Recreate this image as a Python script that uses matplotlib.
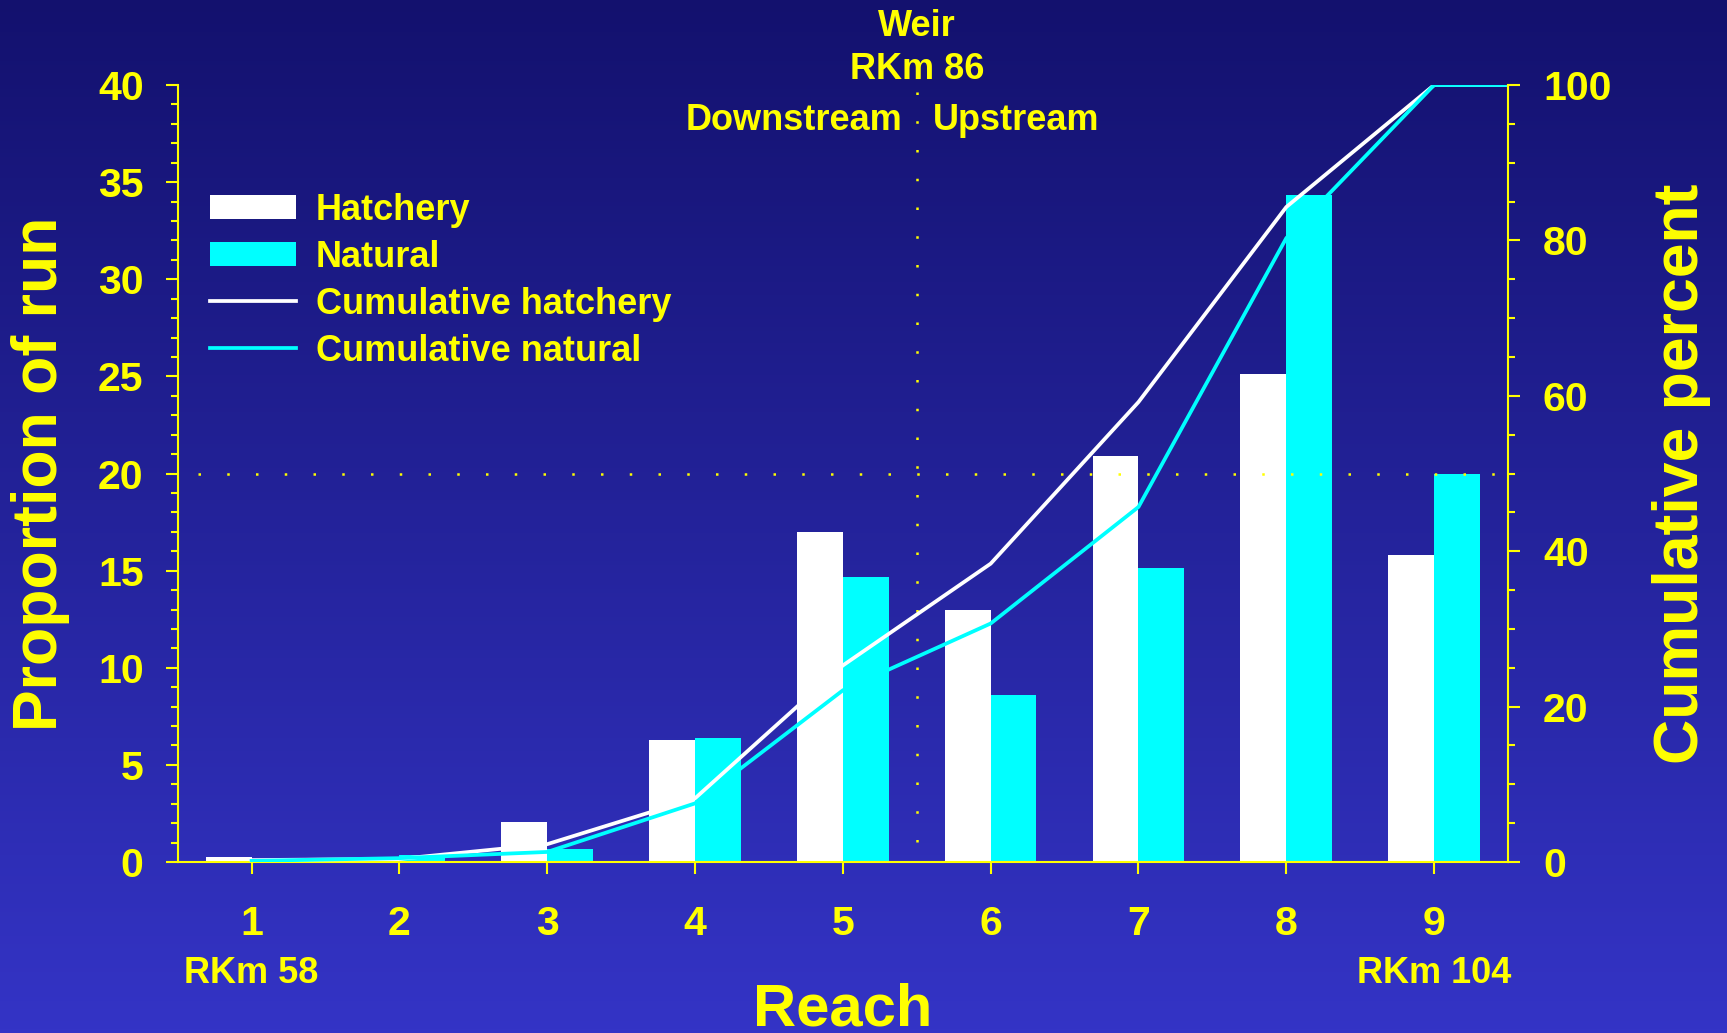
import numpy as np
from matplotlib import pyplot as plt
from matplotlib import transforms
from matplotlib.colors import LinearSegmentedColormap
from matplotlib.ticker import MultipleLocator

plt.rcParams['font.family'] = ['Liberation Sans', 'DejaVu Sans']
plt.rcParams['font.weight'] = 'bold'
plt.rcParams['axes.labelweight'] = 'bold'

# proportion of run by reach (%)
reach = [1, 2, 3, 4, 5, 6, 7, 8, 9]
hatchery = [0.25, 0.1, 2.05, 6.3, 17.0, 13.0, 20.9, 25.1, 15.8]
natural = [0.15, 0.35, 0.67, 6.4, 14.65, 8.6, 15.15, 34.35, 20.0]

# cumulative percent of run
cum_hatchery = [0.25, 0.4, 2.3, 8.2, 25.3, 38.4, 59.2, 84.3, 100.0]
cum_natural = [0.15, 0.5, 1.3, 7.55, 22.1, 30.7, 45.7, 80.3, 100.0]

weir_reach = 5.5
half_run = 20
end_labels = ['RKm 58', 'RKm 104']

YELLOW = '#ffff00'
CYAN = '#00ffff'
bar_w = 0.31

fig = plt.figure(figsize=(17.27, 10.33), dpi=100)

# gradient backdrop
bg = fig.add_axes([0, 0, 1, 1], zorder=-10)
bg_cmap = LinearSegmentedColormap.from_list('bg', ['#13116e', '#3434c6'])
bg.imshow(np.linspace(0, 1, 256)[:, None], aspect='auto', cmap=bg_cmap,
          extent=[0, 1, 0, 1], origin='upper')
bg.axis('off')

ax = fig.add_axes([0.1029, 0.1655, 0.7703, 0.7522])
ax.set_facecolor('none')
ax.bar(reach, hatchery, width=-bar_w, align='edge', color='white',
       linewidth=0, label='Hatchery', zorder=2)
ax.bar(reach, natural, width=bar_w, align='edge', color=CYAN,
       linewidth=0, label='Natural', zorder=2)

dots = (3.5, (1, 10.5))
ax.axvline(weir_reach, color=YELLOW, lw=1.8, ls=dots, zorder=3)
ax.axhline(half_run, color=YELLOW, lw=1.8, ls=dots, zorder=3)

ax.set_xlim(0.5, 9.5)
ax.set_ylim(0, 40)
ax.set_xticks(reach)
ax.set_yticks(range(0, 41, 5))
ax.yaxis.set_minor_locator(MultipleLocator(1))
for s in ['top', 'right']:
    ax.spines[s].set_visible(False)
for s in ['left', 'bottom']:
    ax.spines[s].set_color(YELLOW)
    ax.spines[s].set_linewidth(1.5)
ax.tick_params(which='both', colors=YELLOW, width=1.5, direction='out')
ax.tick_params(which='major', length=8.6, labelsize=29.5)
ax.tick_params(which='minor', length=5)
ax.tick_params(axis='x', pad=22)
ax.tick_params(axis='y', pad=16)

ax.set_xlabel('Reach', fontsize=43, color=YELLOW, va='baseline')
ax.xaxis.set_label_coords(0.5, -0.211)
ax.set_ylabel('Proportion of run', fontsize=45, color=YELLOW, va='baseline')
ax.yaxis.set_label_coords(-0.0907, 0.5)

# cumulative lines on the percent axis, held flat to the right edge
ax2 = ax.twinx()
ax2.set_ylim(0, 100)
cum_x = reach + [ax.get_xlim()[1]]
ax2.plot(cum_x, cum_hatchery + cum_hatchery[-1:], color='white', lw=2.7,
         label='Cumulative hatchery')
ax2.plot(cum_x, cum_natural + cum_natural[-1:], color=CYAN, lw=2.7,
         label='Cumulative natural')
ax2.set_yticks(range(0, 101, 20))
ax2.yaxis.set_minor_locator(MultipleLocator(5))
for s in ['top', 'left', 'bottom']:
    ax2.spines[s].set_visible(False)
ax2.spines['right'].set_color(YELLOW)
ax2.spines['right'].set_linewidth(1.5)
ax2.tick_params(which='both', colors=YELLOW, width=1.5, direction='out')
ax2.tick_params(which='major', length=8.6, labelsize=29.5, pad=16.5)
ax2.tick_params(which='minor', length=5)
ax2.set_ylabel('Cumulative percent', fontsize=45, color=YELLOW,
               rotation=90, va='baseline')
ax2.yaxis.set_label_coords(1.1428, 0.5)

h1, l1 = ax.get_legend_handles_labels()
h2, l2 = ax2.get_legend_handles_labels()
leg = ax2.legend(h1 + h2, l1 + l2, loc='upper left', frameon=False,
                 bbox_to_anchor=(0.1216, 0.8132),
                 bbox_transform=fig.transFigure, fontsize=26, borderpad=0,
                 borderaxespad=0, handlelength=2.38, handleheight=0.66,
                 handletextpad=0.55, labelspacing=0.33)
for t in leg.get_texts():
    t.set_color(YELLOW)

# weir annotation and reach end points
tr = transforms.blended_transform_factory(ax.transData, fig.transFigure)
fig.text(weir_reach, 0.9652, 'Weir', transform=tr, ha='center',
         va='baseline', fontsize=26, color=YELLOW)
fig.text(weir_reach, 0.9235, 'RKm 86', transform=tr, ha='center',
         va='baseline', fontsize=26, color=YELLOW)
fig.text(weir_reach - 0.1, 0.8742, 'Downstream', transform=tr, ha='right',
         va='baseline', fontsize=26, color=YELLOW)
fig.text(weir_reach + 0.11, 0.8742, 'Upstream', transform=tr, ha='left',
         va='baseline', fontsize=26, color=YELLOW)
fig.text(reach[0], 0.0487, end_labels[0], transform=tr, ha='center',
         va='baseline', fontsize=26, color=YELLOW)
fig.text(reach[-1], 0.0487, end_labels[1], transform=tr, ha='center',
         va='baseline', fontsize=26, color=YELLOW)

fig.savefig('out.png', dpi=100)
